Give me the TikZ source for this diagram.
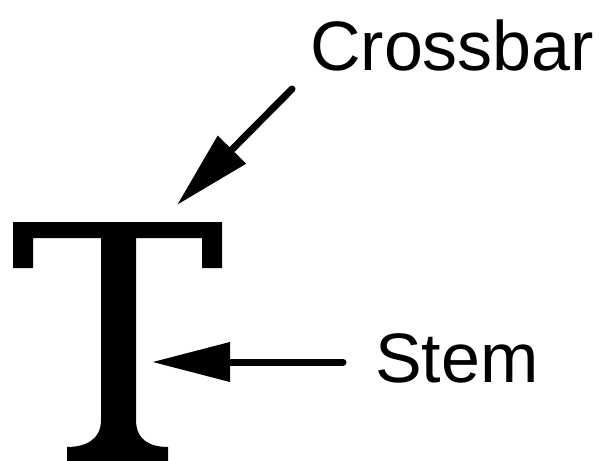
\documentclass[tikz,border=0pt]{standalone}
\usepackage{fontspec}
\setmainfont{Liberation Sans}
\usetikzlibrary{arrows.meta}
\begin{document}
\begin{tikzpicture}[x=1pt,y=-1pt,
  lbl/.style={inner sep=0pt,anchor=base west,font=\fontsize{70}{84}\selectfont},
  pointer/.style={line width=7pt,line cap=round,-{Triangle[length=78pt,width=38pt]}}]
\useasboundingbox (0,0) rectangle (606,461);
% the letter T
\fill[black] (13,222) -- (222,222) -- (222,268) -- (202,268) -- (202,238)
  -- (136,238) -- (136,420) .. controls (136,440) and (150,447) .. (168,447)
  -- (168,461) -- (67,461) -- (67,447)
  .. controls (85,447) and (101,440) .. (101,420)
  -- (101,238) -- (33,238) -- (33,268) -- (13,268) -- cycle;
% labels
\node[lbl] (crossbar) at (310,70) {Crossbar};
\node[lbl] (stem) at (375,382) {Stem};
% arrow ends
\coordinate (cbstart) at (292,89);
\coordinate (cbtip) at (177,205);
\coordinate (ststart) at (343,362);
\coordinate (sttip) at (152,362);
\draw[pointer] (cbstart) -- (cbtip);
\draw[pointer] (ststart) -- (sttip);
\end{tikzpicture}
\end{document}
